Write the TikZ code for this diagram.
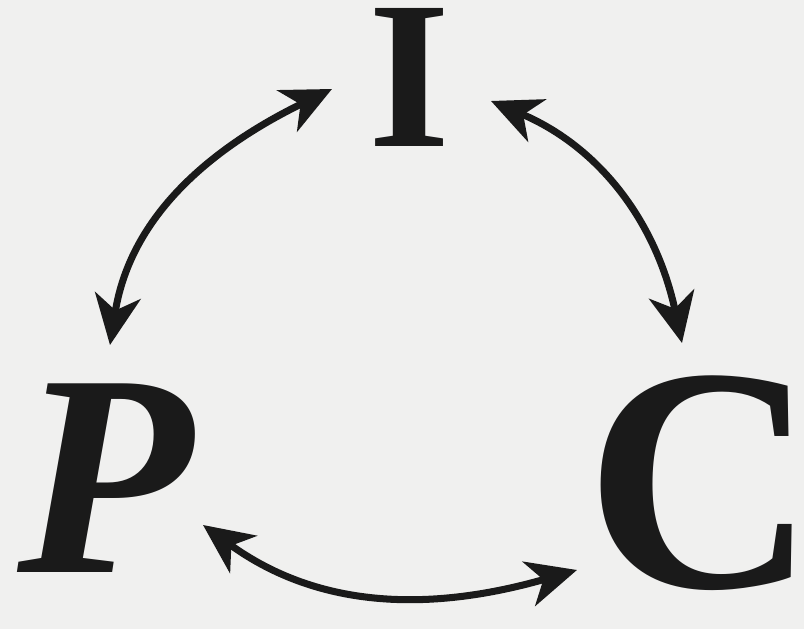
\documentclass[tikz,border=0pt]{standalone}
\usepackage{fontspec}
\setmainfont{Liberation Serif}
\usetikzlibrary{arrows.meta}
\definecolor{paper}{RGB}{240,240,239}
\definecolor{ink}{RGB}{26,26,26}
\newcommand{\lettersize}[1]{\fontsize{#1}{#1}\selectfont\bfseries}
\begin{document}
\begin{tikzpicture}[
		>={Stealth[length=5mm,width=4.6mm,inset=1.5mm]},
		line width=2pt,
		letter/.style={inner sep=0pt, text=ink},
		link/.style={<->, draw=ink}
		]
		
		\fill[paper] (0,0) rectangle (8.04,6.29);
		\useasboundingbox (0,0) rectangle (8.04,6.29);
		
		\node[letter, font=\lettersize{60}] (I) at (4.10,5.52) {I};
		\node[letter, font=\lettersize{82}\itshape] (P) at (1.06,1.51) {P};
		\node[letter, font=\lettersize{91}] (C) at (7.01,1.46) {C};
		
		\path 
		(3.32,5.40) coordinate (IPa)
		(1.10,2.84) coordinate (IPb)
		(4.91,5.28) coordinate (ICa)
		(6.82,2.86) coordinate (ICb)
		(2.03,1.04) coordinate (PCa)
		(5.77,0.59) coordinate (PCb)
		;
		
		\draw[link] (IPa) to[out=206, in=81] (IPb);
		\draw[link] (ICa) to[out=-23, in=102] (ICb);
		\draw[link] (PCa) to[out=-36, in=196] (PCb);
		
	\end{tikzpicture}
\end{document}
